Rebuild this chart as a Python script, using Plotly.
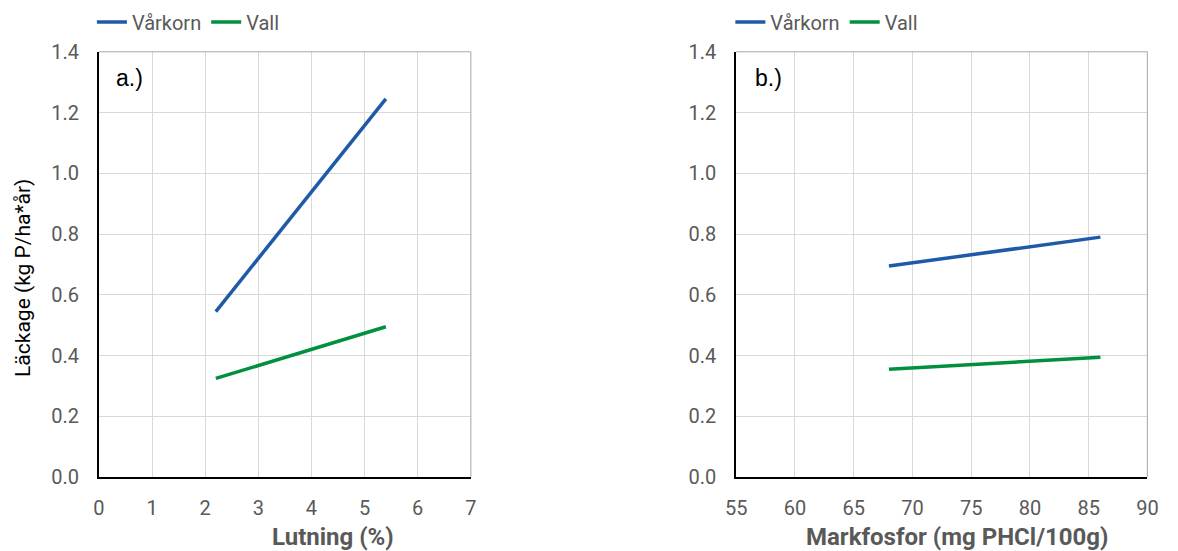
import plotly.graph_objects as go

# Data
lutning = [2.2, 5.4]
varkorn_a = [0.545, 1.245]
vall_a = [0.325, 0.495]

markfosfor = [68, 86]
varkorn_b = [0.695, 0.79]
vall_b = [0.355, 0.395]

y_ticks = [0.0, 0.2, 0.4, 0.6, 0.8, 1.0, 1.2, 1.4]

BLUE = "#1F5AA8"
GREEN = "#009040"
FONT = "Roboto, Liberation Sans, sans-serif"
GRAY = "#595959"

fig = go.Figure()
fig.add_trace(go.Scatter(x=lutning, y=varkorn_a, mode="lines", name="Vårkorn",
                         line=dict(color=BLUE, width=3.5), xaxis="x", yaxis="y", legend="legend"))
fig.add_trace(go.Scatter(x=lutning, y=vall_a, mode="lines", name="Vall",
                         line=dict(color=GREEN, width=3.5), xaxis="x", yaxis="y", legend="legend"))
fig.add_trace(go.Scatter(x=markfosfor, y=varkorn_b, mode="lines", name="Vårkorn",
                         line=dict(color=BLUE, width=3.5), xaxis="x2", yaxis="y2", legend="legend2"))
fig.add_trace(go.Scatter(x=markfosfor, y=vall_b, mode="lines", name="Vall",
                         line=dict(color=GREEN, width=3.5), xaxis="x2", yaxis="y2", legend="legend2"))

ax_common = dict(showgrid=True, gridcolor="#D9D9D9", gridwidth=1, zeroline=False,
                 showline=True, linecolor="black", linewidth=2, automargin=False,
                 tickfont=dict(family=FONT, size=20, color=GRAY), ticks="")
xt = dict(ticklabelstandoff=12)
yt = dict(ticklabelstandoff=14)
ydom = [0.134, 0.906]
fig.update_layout(
    width=1178, height=551,
    margin=dict(l=0, r=0, t=0, b=0),
    paper_bgcolor="white", plot_bgcolor="white",
    font=dict(family=FONT, color=GRAY),
    xaxis=dict(domain=[0.0840, 0.3997], range=[0, 7], dtick=1, anchor="y", **xt, **ax_common),
    yaxis=dict(domain=ydom, range=[0, 1.4], tickvals=y_ticks, tickformat=".1f", anchor="x", **yt, **ax_common),
    xaxis2=dict(domain=[0.6250, 0.9740], range=[55, 90], dtick=5, anchor="y2", **xt, **ax_common),
    yaxis2=dict(domain=ydom, range=[0, 1.4], tickvals=y_ticks, tickformat=".1f", anchor="x2", **yt, **ax_common),
    legend=dict(orientation="h", x=0.078, y=0.96, xanchor="left", yanchor="middle",
                font=dict(family=FONT, size=20, color=GRAY), bgcolor="rgba(0,0,0,0)",
                itemwidth=30, tracegroupgap=0),
    legend2=dict(orientation="h", x=0.62, y=0.96, xanchor="left", yanchor="middle",
                 font=dict(family=FONT, size=20, color=GRAY), bgcolor="rgba(0,0,0,0)",
                 itemwidth=30, tracegroupgap=0),
    annotations=[
        dict(text="a.)", x=0.04, y=0.939, xref="x domain", yref="y domain", xanchor="left", yanchor="middle",
             showarrow=False, font=dict(family="Liberation Sans, Arial, sans-serif", size=23, color="black")),
        dict(text="b.)", x=0.04, y=0.939, xref="x2 domain", yref="y2 domain", xanchor="left", yanchor="middle",
             showarrow=False, font=dict(family="Liberation Sans, Arial, sans-serif", size=23, color="black")),
        dict(text="<b>Lutning (%)</b>", x=0.2827, y=0.0254, xref="paper", yref="paper",
             xanchor="center", yanchor="middle", showarrow=False,
             font=dict(family=FONT, size=24, color=GRAY)),
        dict(text="<b>Markfosfor (mg PHCl/100g)</b>", x=0.8124, y=0.0254, xref="paper", yref="paper",
             xanchor="center", yanchor="middle", showarrow=False,
             font=dict(family=FONT, size=24, color=GRAY)),
        dict(text="Läckage (kg P/ha*år)", x=0.0195, y=0.4955, xref="paper", yref="paper", textangle=-90,
             xanchor="center", yanchor="middle", showarrow=False,
             font=dict(family=FONT, size=21, color="black")),
    ],
    shapes=[
        dict(type="line", xref="x domain", yref="y domain", x0=0, x1=1, y0=1, y1=1, line=dict(color="#A6A6A6", width=1)),
        dict(type="line", xref="x domain", yref="y domain", x0=1, x1=1, y0=0, y1=1, line=dict(color="#A6A6A6", width=1)),
        dict(type="line", xref="x2 domain", yref="y2 domain", x0=0, x1=1, y0=1, y1=1, line=dict(color="#A6A6A6", width=1)),
        dict(type="line", xref="x2 domain", yref="y2 domain", x0=1, x1=1, y0=0, y1=1, line=dict(color="#A6A6A6", width=1)),
    ],
)
fig.write_html("out.html")
